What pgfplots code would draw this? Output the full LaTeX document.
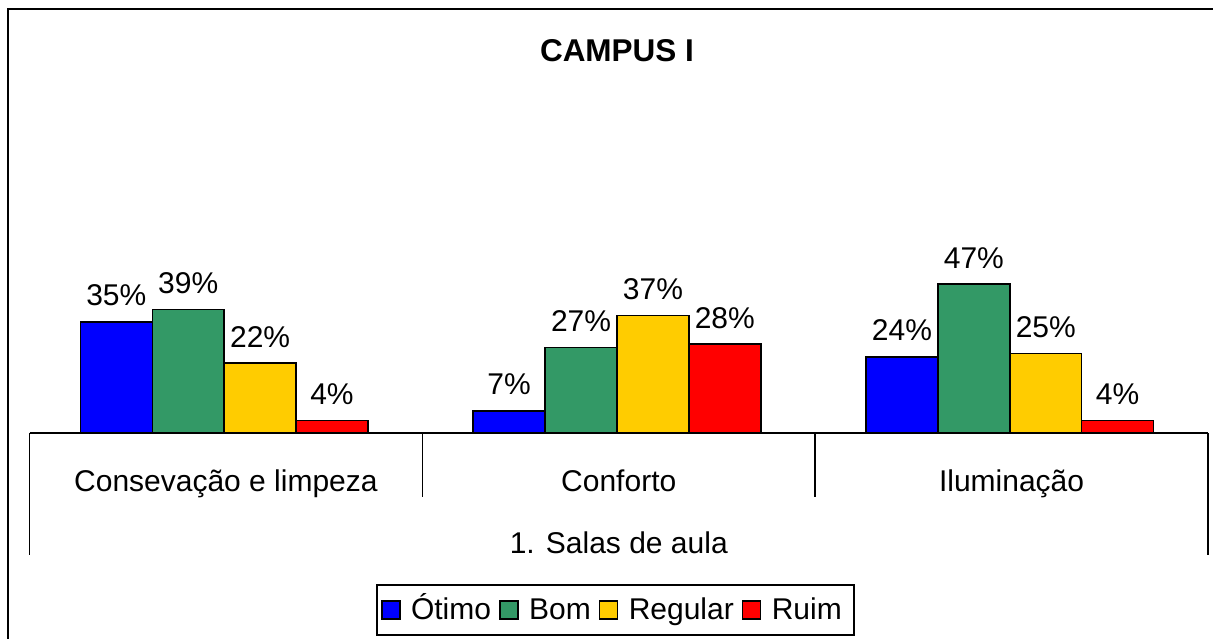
\documentclass[border=0pt]{standalone}
\usepackage{pgfplots}
\pgfplotsset{compat=1.18}
\usepackage{fontspec}
\setmainfont{Liberation Sans}
\definecolor{cOtimo}{RGB}{0,0,255}
\definecolor{cBom}{RGB}{51,153,102}
\definecolor{cReg}{RGB}{255,204,0}
\definecolor{cRuim}{RGB}{255,0,0}
\begin{document}
\begin{tikzpicture}
\useasboundingbox (0,0) rectangle (606.5pt,319pt);
\draw[line width=1pt] (4pt,-2pt) -- (4pt,314.5pt) -- (610pt,314.5pt);
\node[anchor=base,font=\fontsize{15.75}{18}\selectfont\bfseries] at (308.5pt,288pt) {CAMPUS I};
\begin{axis}[
  at={(14.75pt,102.5pt)}, anchor=south west,
  scale only axis, width=589.25pt, height=166.5pt,
  xmin=-0.5, xmax=2.5, ymin=0, ymax=105,
  hide y axis,
  axis x line*=bottom,
  axis line style={line width=0.75pt, -},
  xtick={0,1,2},
  xticklabels={Consevação e limpeza, Conforto, Iluminação},
  major tick length=0pt,
  xticklabel style={anchor=base, yshift=-29pt, font=\fontsize{15}{18}\selectfont},
  /pgf/number format/assume math mode=true,
  ybar, bar width=0.183,
  every axis plot/.append style={draw=black, line width=0.75pt,
    legend image code/.code={\draw[#1,draw=black,line width=0.6pt] (0pt,-4.5pt) rectangle (9pt,4.5pt);
      \path[draw=none,fill=none] (-0.5pt,0pt) -- (10.5pt,0pt);}},
  nodes near coords={\pgfmathprintnumber{\pgfplotspointmeta}\%},
  every node near coord/.append style={anchor=south, inner sep=0pt, yshift=7.5pt, font=\fontsize{15}{18}\selectfont, black},
  legend columns=4,
  legend style={at={(0.4972,-0.5315)}, anchor=center, draw=black, line width=0.75pt,
    font=\fontsize{15}{18}\selectfont, inner xsep=2pt, inner ysep=3pt,
    column sep=0pt,
    nodes={inner xsep=4pt, inner ysep=1pt, text height=13.5pt, text depth=3.5pt}},
  clip=false,
]
\addplot[fill=cOtimo, bar shift=-0.279] coordinates {(0,35) (1,7) (2,24)};
\addplot[fill=cBom, bar shift=-0.096] coordinates {(0,39) (1,27) (2,47)};
\addplot[fill=cReg, bar shift=0.087] coordinates {(0,22) (1,37) (2,25)};
\addplot[fill=cRuim, bar shift=0.270] coordinates {(0,4) (1,28) (2,4)};
\legend{Ótimo, Bom, Regular, Ruim}
\draw[line width=0.75pt] (axis cs:-0.5,0) -- ([yshift=-61pt]axis cs:-0.5,0);
\draw[line width=0.75pt] (axis cs:2.5,0) -- ([yshift=-61pt]axis cs:2.5,0);
\draw[line width=0.75pt] (axis cs:0.5,0) -- ([yshift=-32pt]axis cs:0.5,0);
\draw[line width=0.75pt] (axis cs:1.5,0) -- ([yshift=-32pt]axis cs:1.5,0);
\node[anchor=base, font=\fontsize{15}{18}\selectfont] at ([yshift=-60pt]axis cs:1,0) {1. Salas de aula};
\end{axis}
\end{tikzpicture}
\end{document}
